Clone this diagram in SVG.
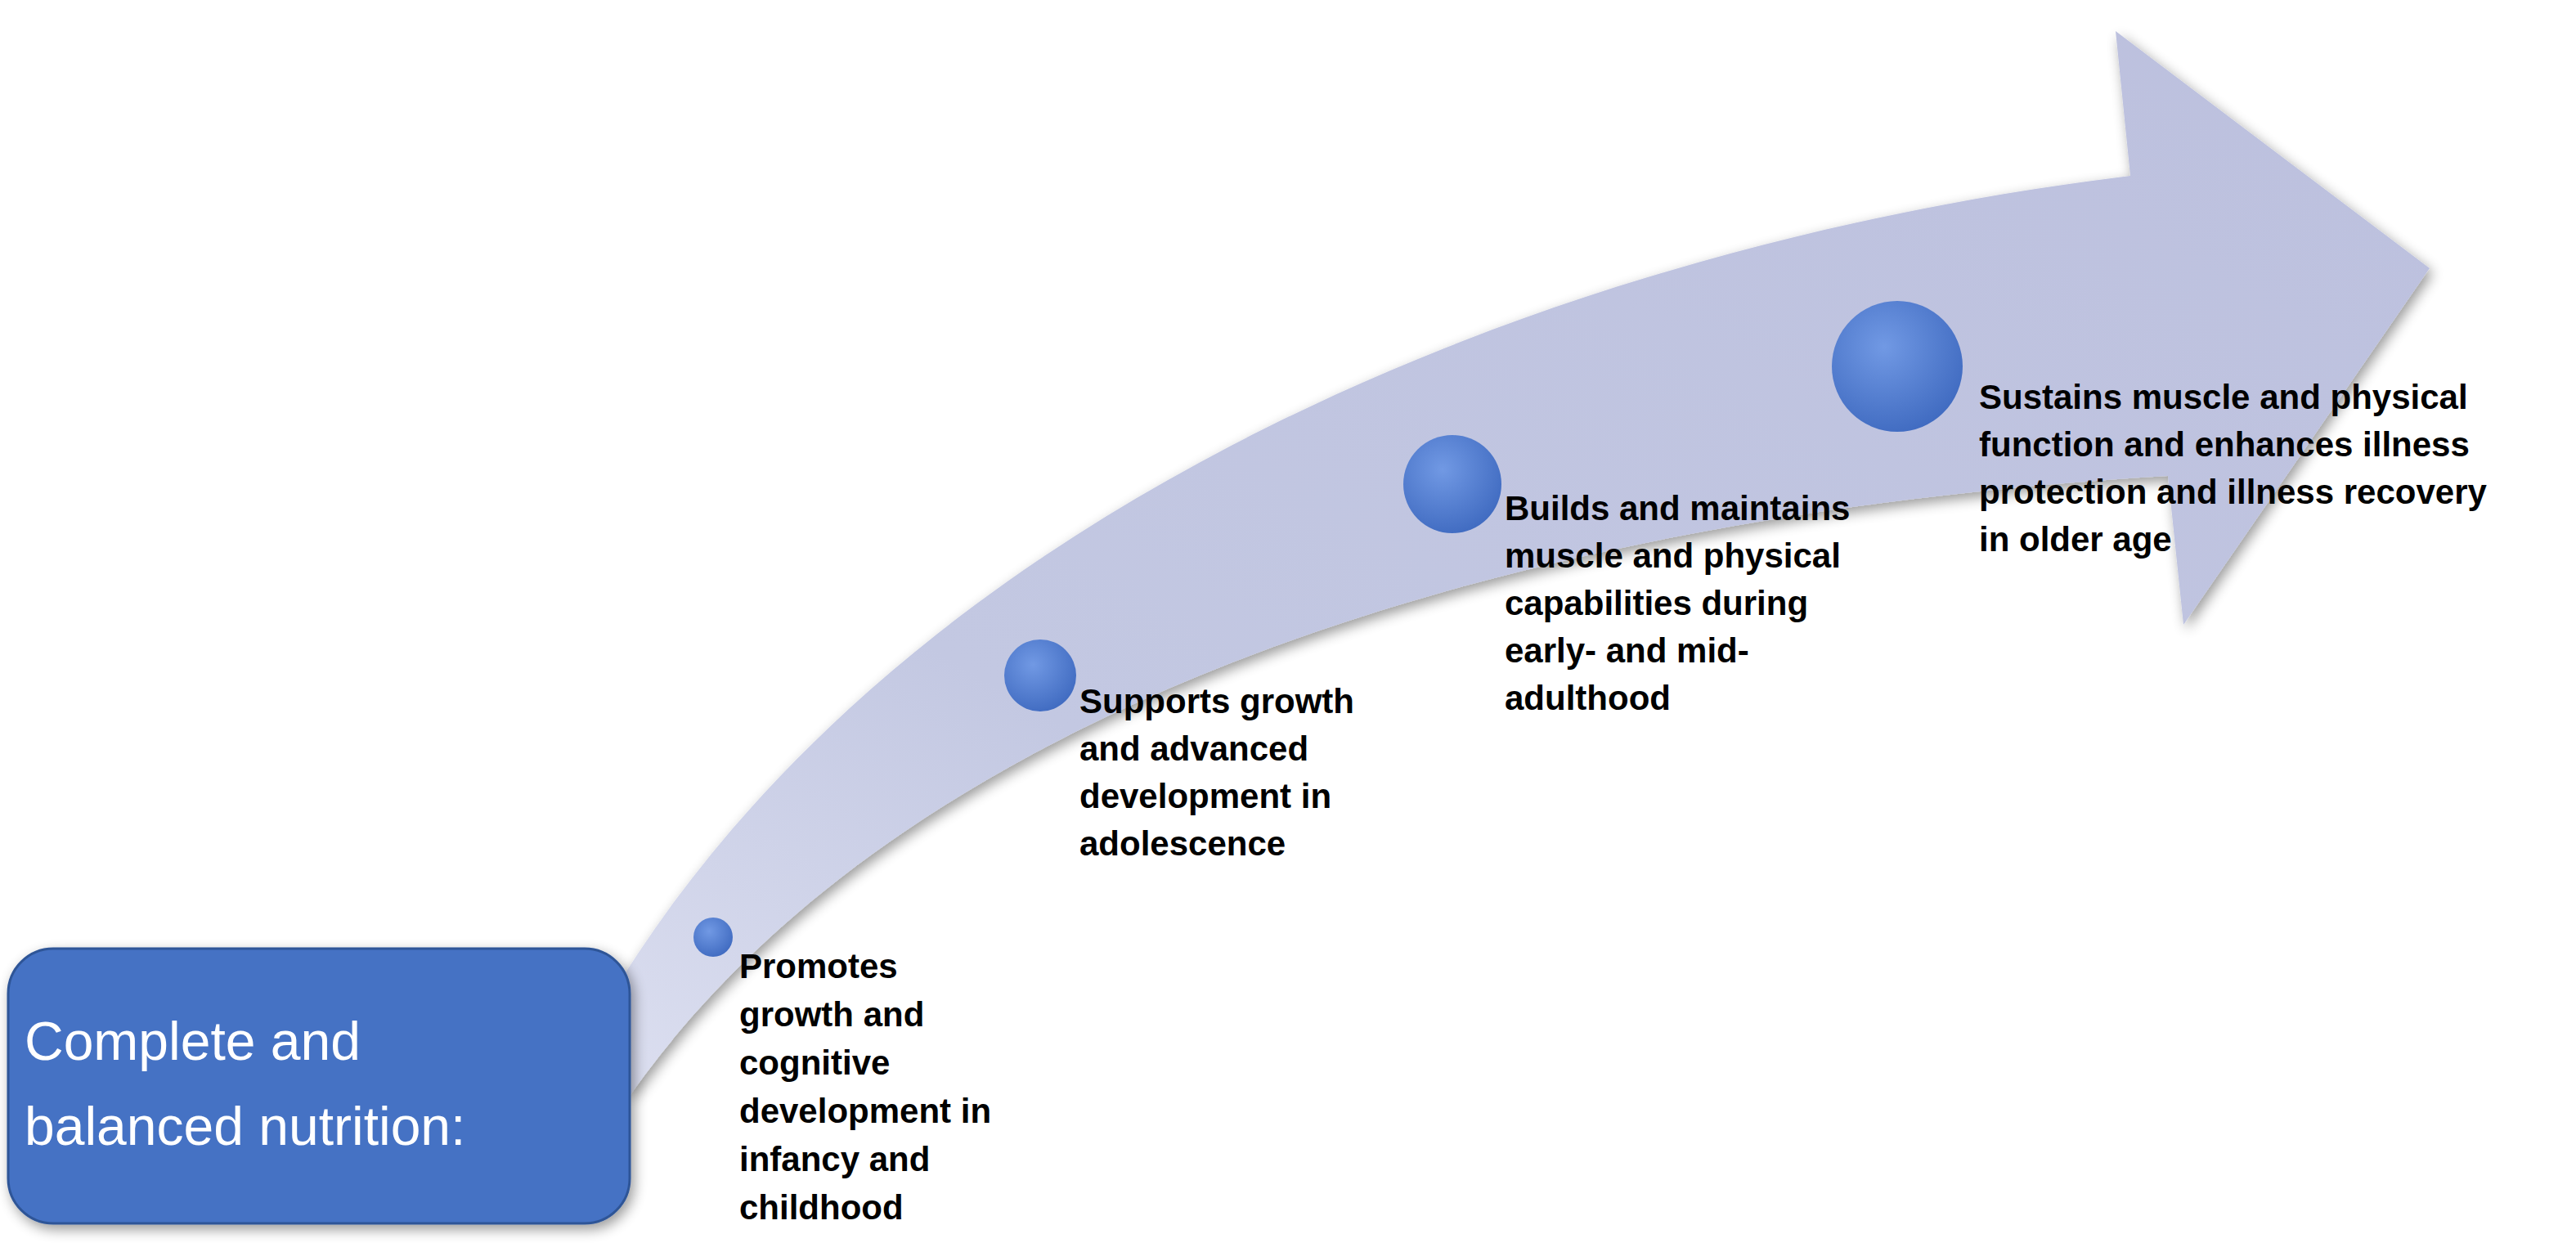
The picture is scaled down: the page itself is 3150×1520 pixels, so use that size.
<svg xmlns="http://www.w3.org/2000/svg" width="3150" height="1520" viewBox="0 0 3150 1520">
<defs>
<filter id="sh" x="-10%" y="-10%" width="120%" height="120%"><feGaussianBlur in="SourceAlpha" stdDeviation="8"/><feOffset dx="4" dy="6"/><feComponentTransfer><feFuncA type="linear" slope="0.4"/></feComponentTransfer><feMerge><feMergeNode/><feMergeNode in="SourceGraphic"/></feMerge></filter>
<radialGradient id="ball" cx="0.4" cy="0.35" r="0.7"><stop offset="0" stop-color="#7199e4"/><stop offset="1" stop-color="#3f6ac0"/></radialGradient>
<linearGradient id="arr" x1="0" y1="1" x2="1" y2="0"><stop offset="0" stop-color="#dcdff0"/><stop offset="0.3" stop-color="#c3c8e2"/><stop offset="1" stop-color="#bcc0de"/></linearGradient>
</defs>
<style>
.t{font-family:"Liberation Sans",Arial,sans-serif;font-weight:bold;font-size:42px;fill:#000}
.b{font-family:"Liberation Sans",Arial,sans-serif;font-size:66px;fill:#fff}
</style>
<rect width="3150" height="1520" fill="#fff"/>
<g id="arrow">
<path d="M 2605 215 L 2587 38 L 2971 328 L 2670 764 L 2651 582 C 2000 620 1150 800 770 1340 L 740 1230 C 1100 620 1900 300 2605 215 Z" fill="url(#arr)" filter="url(#sh)"/>
</g>
<g id="box">
<rect x="10" y="1160" width="760" height="336" rx="55" fill="#4472c4" stroke="#2f5597" stroke-width="3" filter="url(#sh)"/>
<text class="b" x="30" y="1296">Complete and</text>
<text class="b" x="30" y="1400">balanced nutrition:</text>
</g>
<g id="stage1">
<circle cx="872" cy="1146" r="24" fill="url(#ball)"/>
<text class="t" x="904"><tspan x="904" y="1196">Promotes</tspan><tspan x="904" y="1255">growth and</tspan><tspan x="904" y="1314">cognitive</tspan><tspan x="904" y="1373">development in</tspan><tspan x="904" y="1432">infancy and</tspan><tspan x="904" y="1491">childhood</tspan></text>
</g>
<g id="stage2">
<circle cx="1272" cy="826" r="44" fill="url(#ball)"/>
<text class="t"><tspan x="1320" y="872">Supports growth</tspan><tspan x="1320" y="930">and advanced</tspan><tspan x="1320" y="988">development in</tspan><tspan x="1320" y="1046">adolescence</tspan></text>
</g>
<g id="stage3">
<circle cx="1776" cy="592" r="60" fill="url(#ball)"/>
<text class="t"><tspan x="1840" y="636">Builds and maintains</tspan><tspan x="1840" y="694">muscle and physical</tspan><tspan x="1840" y="752">capabilities during</tspan><tspan x="1840" y="810">early- and mid-</tspan><tspan x="1840" y="868">adulthood</tspan></text>
</g>
<g id="stage4">
<circle cx="2320" cy="448" r="80" fill="url(#ball)"/>
<text class="t"><tspan x="2420" y="500">Sustains muscle and physical</tspan><tspan x="2420" y="558">function and enhances illness</tspan><tspan x="2420" y="616">protection and illness recovery</tspan><tspan x="2420" y="674">in older age</tspan></text>
</g>
<g id="connectors"/>
</svg>
